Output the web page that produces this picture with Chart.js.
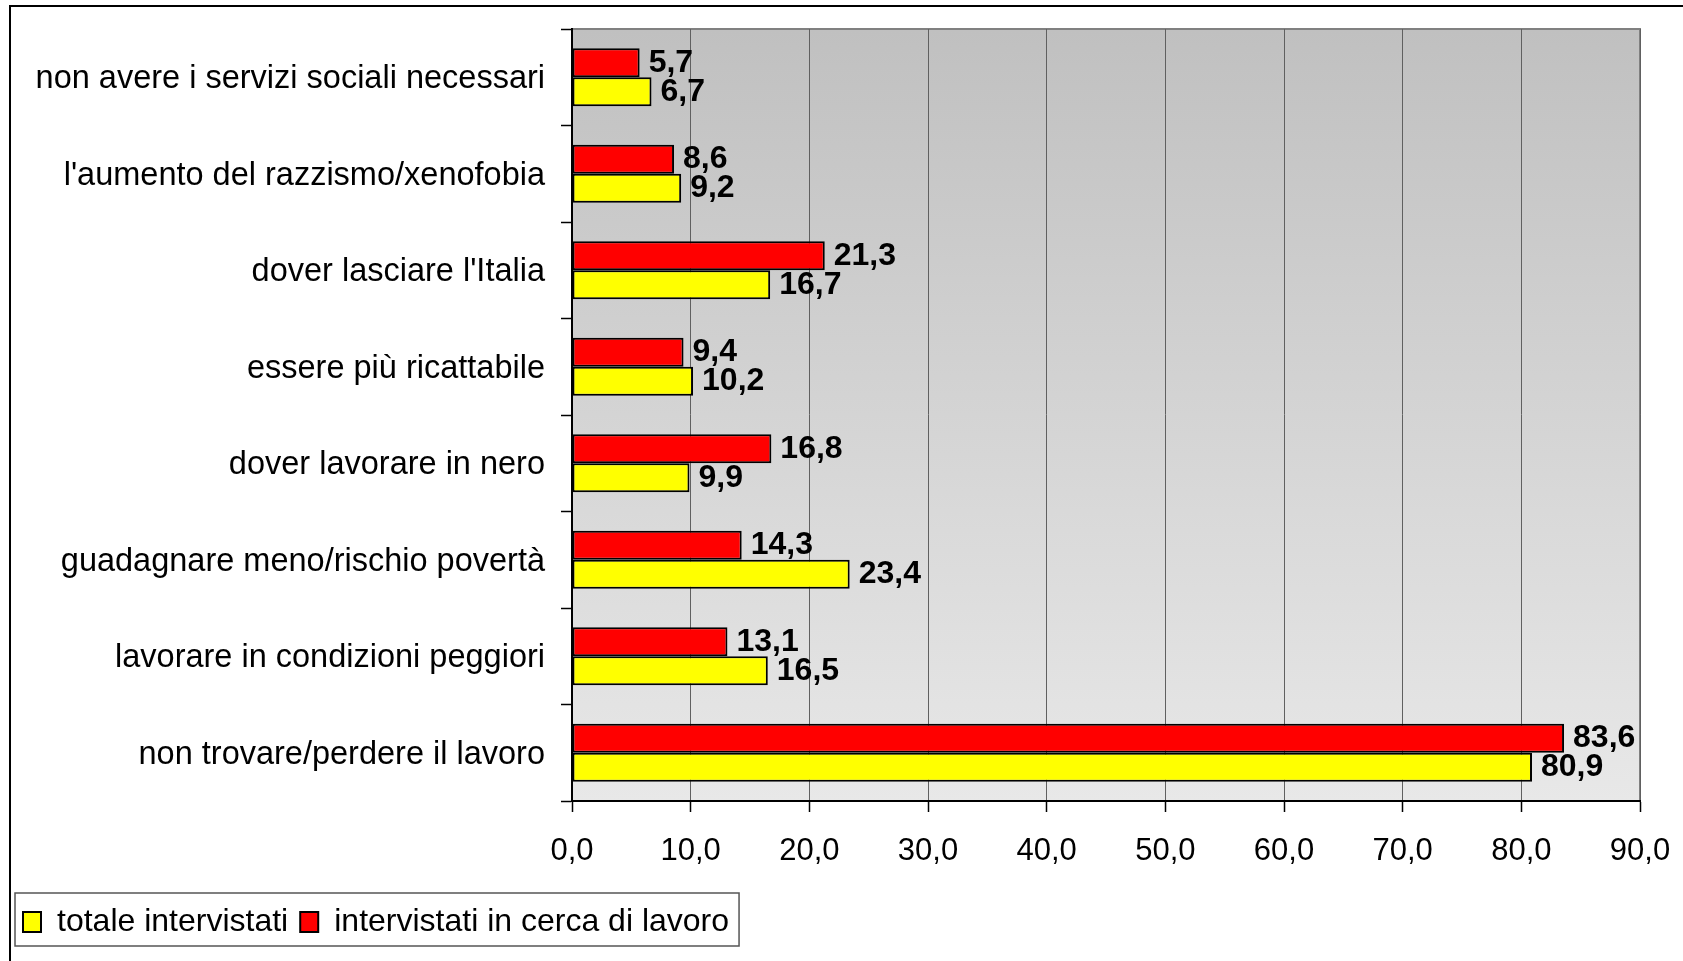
<!DOCTYPE html>
<html lang="it">
<head>
<meta charset="utf-8">
<title>Timori</title>
<script src="https://cdn.jsdelivr.net/npm/chart.js@4.4.1/dist/chart.umd.min.js"></script>
<style>
  html, body { margin:0; padding:0; background:#fff; }
  #wrap { position:relative; width:1683px; height:961px; }
</style>
</head>
<body>
<div id="wrap"><canvas id="chart" width="1683" height="961"></canvas></div>
<script>
// categorie, dall'alto verso il basso
const categorie = [
  'non avere i servizi sociali necessari',
  "l'aumento del razzismo/xenofobia",
  "dover lasciare l'Italia",
  'essere più ricattabile',
  'dover lavorare in nero',
  'guadagnare meno/rischio povertà',
  'lavorare in condizioni peggiori',
  'non trovare/perdere il lavoro'
];
const inCercaLavoro = [5.7, 8.6, 21.3, 9.4, 16.8, 14.3, 13.1, 83.6];
const totaleIntervistati = [6.7, 9.2, 16.7, 10.2, 9.9, 23.4, 16.5, 80.9];
const xMin = 0, xMax = 90, xStep = 10;

const fmt = v => v.toFixed(1).replace('.', ',');
const FONT = "'Liberation Sans', Arial, sans-serif";

// cornice esterna + sfondo sfumato dell'area del grafico
const sfondo = {
  id:'sfondo',
  beforeDraw(chart){
    const {ctx, chartArea:a} = chart;
    ctx.save();
    ctx.strokeStyle = '#000'; ctx.lineWidth = 2;
    ctx.beginPath(); ctx.moveTo(10, 961); ctx.lineTo(10, 6); ctx.lineTo(1683, 6); ctx.stroke();
    const g = ctx.createLinearGradient(0, a.top, 0, a.bottom);
    g.addColorStop(0, '#c0c0c0');
    g.addColorStop(1, '#e8e8e8');
    ctx.fillStyle = g;
    ctx.fillRect(a.left, a.top, a.right - a.left, a.bottom - a.top);
    ctx.strokeStyle = '#808080'; ctx.lineWidth = 2;
    ctx.beginPath(); ctx.moveTo(a.left, a.top); ctx.lineTo(a.right, a.top); ctx.lineTo(a.right, a.bottom); ctx.stroke();
    ctx.restore();
  },
  afterDraw(chart){
    // riquadro della legenda
    const lg = chart.legend;
    if(!lg || !lg.legendHitBoxes.length) return;
    const hb = lg.legendHitBoxes;
    const left = Math.min(...hb.map(h=>h.left)) - 8;
    const right = Math.max(...hb.map(h=>h.left + h.width)) + 10;
    const ctx = chart.ctx;
    ctx.save();
    ctx.strokeStyle = '#555'; ctx.lineWidth = 1.5;
    ctx.strokeRect(left, lg.top - 1, right - left, lg.height - 1);
    ctx.restore();
  }
};

// etichette dei valori
const etichette = {
  id:'etichette',
  afterDatasetsDraw(chart){
    const ctx = chart.ctx;
    ctx.save();
    ctx.font = `bold 32px ${FONT}`;
    ctx.fillStyle = '#000';
    ctx.textAlign = 'left';
    ctx.textBaseline = 'middle';
    chart.data.datasets.forEach((ds, i)=>{
      chart.getDatasetMeta(i).data.forEach((bar, j)=>{
        ctx.fillText(fmt(ds.data[j]), bar.x + 9, bar.y);
      });
    });
    ctx.restore();
  }
};

new Chart(document.getElementById('chart'), {
  type:'bar',
  data:{
    labels: categorie,
    datasets:[
      { label:'intervistati in cerca di lavoro', data: inCercaLavoro,
        backgroundColor:'#ff0000', borderColor:'#000', borderWidth:2, borderSkipped:false },
      { label:'totale intervistati', data: totaleIntervistati,
        backgroundColor:'#ffff00', borderColor:'#000', borderWidth:2, borderSkipped:false }
    ]
  },
  options:{
    indexAxis:'y',
    responsive:false,
    animation:false,
    devicePixelRatio:1,
    categoryPercentage:0.6,
    barPercentage:1,
    layout:{ padding:{ top:29, right:43, left:11, bottom:13 } },
    plugins:{
      tooltip:{ enabled:false },
      legend:{
        position:'bottom',
        align:'start',
        reverse:true,
        labels:{
          color:'#000',
          font:{ family:FONT, size:32 },
          boxWidth:18, boxHeight:20, padding:12
        }
      }
    },
    scales:{
      x:{
        min:xMin, max:xMax,
        ticks:{ stepSize:xStep, color:'#000', padding:21,
                font:{ family:FONT, size:31 }, callback:v=>fmt(v) },
        grid:{ color:'#606060', lineWidth:1, tickColor:'#000', tickLength:11, tickWidth:1.5 },
        border:{ color:'#000', width:2 },
        afterFit(s){ s.height = 93; s.paddingLeft = 0; s.paddingRight = 0; }
      },
      y:{
        ticks:{ color:'#000', padding:16, labelOffset:2, font:{ family:FONT, size:32.5 } },
        grid:{ drawOnChartArea:false, tickColor:'#000', tickLength:11, tickWidth:1.5, offset:true },
        border:{ color:'#000', width:2 },
        afterFit(s){ s.width = 561; s.paddingTop = 0; s.paddingBottom = 0; }
      }
    }
  },
  plugins:[sfondo, etichette]
});
</script>
</body>
</html>
